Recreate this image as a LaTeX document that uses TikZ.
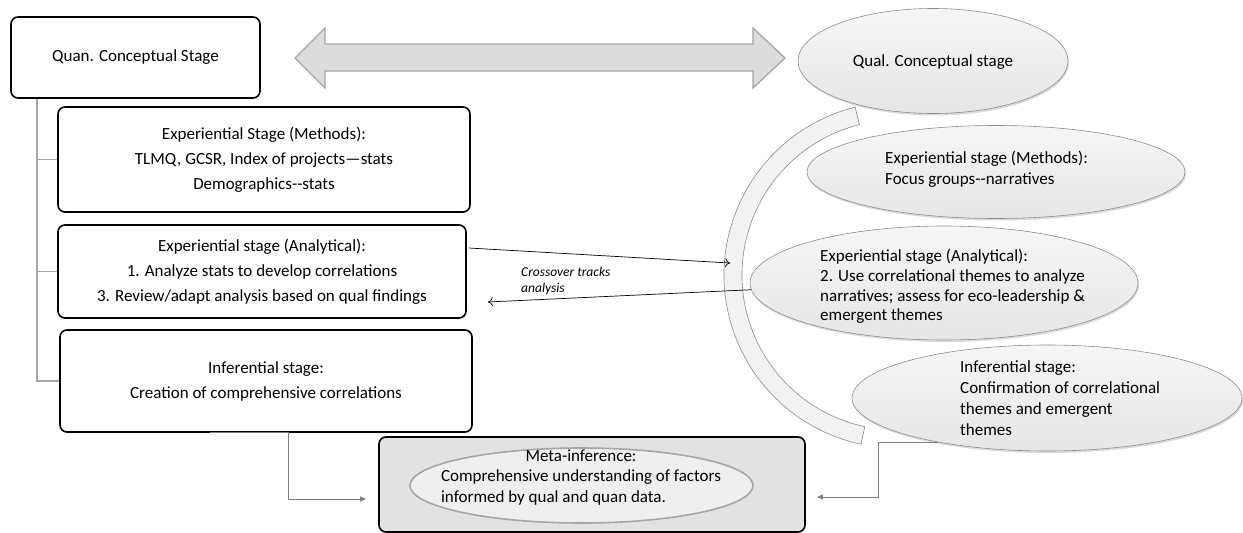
\documentclass[tikz,border=0pt]{standalone}
\usepackage{fontspec}
\setmainfont{Carlito}
\usetikzlibrary{shapes.geometric,arrows.meta,calc,shadows}
\definecolor{ovalline}{HTML}{8C8C8C}
\definecolor{ovaltop}{HTML}{F6F6F6}
\definecolor{ovalbot}{HTML}{E6E6E6}
\definecolor{treeline}{HTML}{A6A6A6}
\definecolor{linkgray}{HTML}{7F7F7F}
\definecolor{bandfill}{HTML}{F2F2F2}
\definecolor{bigarrow}{HTML}{DCDCDC}
\definecolor{metafill}{HTML}{E2E2E2}
\definecolor{metaoval}{HTML}{EFEFEF}
\begin{document}
\begin{tikzpicture}[x=1pt,y=-1pt,
  txt/.style={font=\fontsize{17}{25}\selectfont},
  stagebox/.style={draw=black, line width=1.6pt, rounded corners=7pt, fill=white,
    align=center, inner sep=0pt, txt},
  oval/.style={ellipse, draw=ovalline, line width=0.6pt, top color=ovaltop, bottom color=ovalbot,
    inner sep=0pt, drop shadow={shadow xshift=1pt, shadow yshift=-2pt, opacity=0.14, fill=black}},
  ovaltext/.style={anchor=west, align=left, inner sep=0pt, font=\fontsize{17}{21.5}\selectfont},
  trunk/.style={draw=treeline, line width=1.6pt},
  link/.style={draw=linkgray, line width=0.9pt, -{Triangle[length=6pt,width=5pt]}},
  cross/.style={draw=black, line width=0.7pt, -{To[length=5pt,width=9pt]}}
]
\useasboundingbox (0,0) rectangle (1243,533);

% two-way arrow between the conceptual stages
\filldraw[fill=bigarrow, draw=treeline, line width=1.3pt, line join=miter]
  (295,58) -- (325,28) -- (325,44) -- (753,44) -- (753,28) -- (785,58)
  -- (753,88) -- (753,71) -- (325,71) -- (325,88) -- cycle;

% quantitative strand
\node[stagebox, minimum width=249pt, minimum height=81pt] (quan) at (135.5,57.5) {Quan. Conceptual Stage};
\node[stagebox, minimum width=412pt, minimum height=105pt] (qmeth) at (264,159.5)
  {Experiential Stage (Methods):\\TLMQ, GCSR, Index of projects—stats\\Demographics-{}-stats};
\node[stagebox, minimum width=408pt, minimum height=93pt] (qana) at (262,271.5)
  {Experiential stage (Analytical):\\1. Analyze stats to develop correlations\\3. Review/adapt analysis based on qual findings};
\node[stagebox, minimum width=412pt, minimum height=102pt] (qinf) at (266,381)
  {Inferential stage:\\Creation of comprehensive correlations};

\coordinate (tk) at (37,0);
\draw[trunk] (tk |- quan.south) -- (tk |- qinf.west) -- (qinf.west);
\draw[trunk] (tk |- qmeth.west) -- (qmeth.west);
\draw[trunk] (tk |- qana.west) -- (qana.west);

% qualitative strand: curved band behind the ovals
\coordinate (bc) at (897,275);
\filldraw[fill=bandfill, draw=ovalline, line width=0.6pt]
  ($(bc)+(256:173)$) arc[start angle=256, end angle=102, radius=173]
  -- ($(bc)+(102:155)$) arc[start angle=102, end angle=256, radius=155] -- cycle;

\node[oval, minimum width=270pt, minimum height=105pt] (qual) at (933,61) {};
\node[txt, inner sep=0pt] (qualT) at (933,62) {Qual. Conceptual stage};

\node[oval, minimum width=378pt, minimum height=93pt] (lmeth) at (996,172) {};
\node[ovaltext] (lmethT) at (885,169) {Experiential stage (Methods):\\Focus groups-{}-narratives};

\node[oval, minimum width=388pt, minimum height=114pt] (lana) at (944,283) {};
\node[ovaltext, font=\fontsize{17}{19.7}\selectfont] (lanaT) at (820,286.5)
  {Experiential stage (Analytical):\\2. Use correlational themes to analyze\\narratives; assess for eco-leadership \&\\emergent themes};

\node[oval, minimum width=390pt, minimum height=106pt] (linf) at (1047,398) {};
\node[ovaltext, font=\fontsize{17}{21}\selectfont] (linfT) at (960,398.5)
  {Inferential stage:\\Confirmation of correlational\\themes and emergent\\themes};

% meta-inference
\node[draw=black, line width=1.6pt, rounded corners=7pt, fill=metafill, inner sep=0pt,
  minimum width=426pt, minimum height=95pt] (meta) at (592,484.5) {};
\node[ellipse, draw=treeline, line width=1.6pt, fill=metaoval, inner sep=0pt,
  minimum width=343pt, minimum height=75pt] (metaO) at (581.5,485.5) {};
\node[inner sep=0pt, font=\fontsize{17}{20.5}\selectfont] (metaT) at (581,477.5)
  {\begin{tabular}{@{}l@{}}\multicolumn{1}{@{}c@{}}{Meta-inference:}\\
   Comprehensive understanding of factors\\informed by qual and quan data.\end{tabular}};

% crossover tracks
\coordinate (xin) at (730,263);
\coordinate (xout) at (488,302);
\draw[cross] ($(qana.east)+(2,-23.5)$) -- (xin);
\draw[cross] (lana.182) -- (xout);
\node[anchor=west, align=left, inner sep=0pt, font=\fontsize{13.5}{16}\itshape] (xlab) at (521,281)
  {Crossover tracks\\analysis};

% links into the meta-inference
\coordinate (mL) at (366,499);
\coordinate (mR) at (817,497);
\draw[link] ($(qinf.south)+(-56,0)$) -| ($(mL)+(-78,0)$) -- (mL);
\draw[link] (linf.202) -| ($(mR)+(61,0)$) -- (mR);
\end{tikzpicture}
\end{document}
